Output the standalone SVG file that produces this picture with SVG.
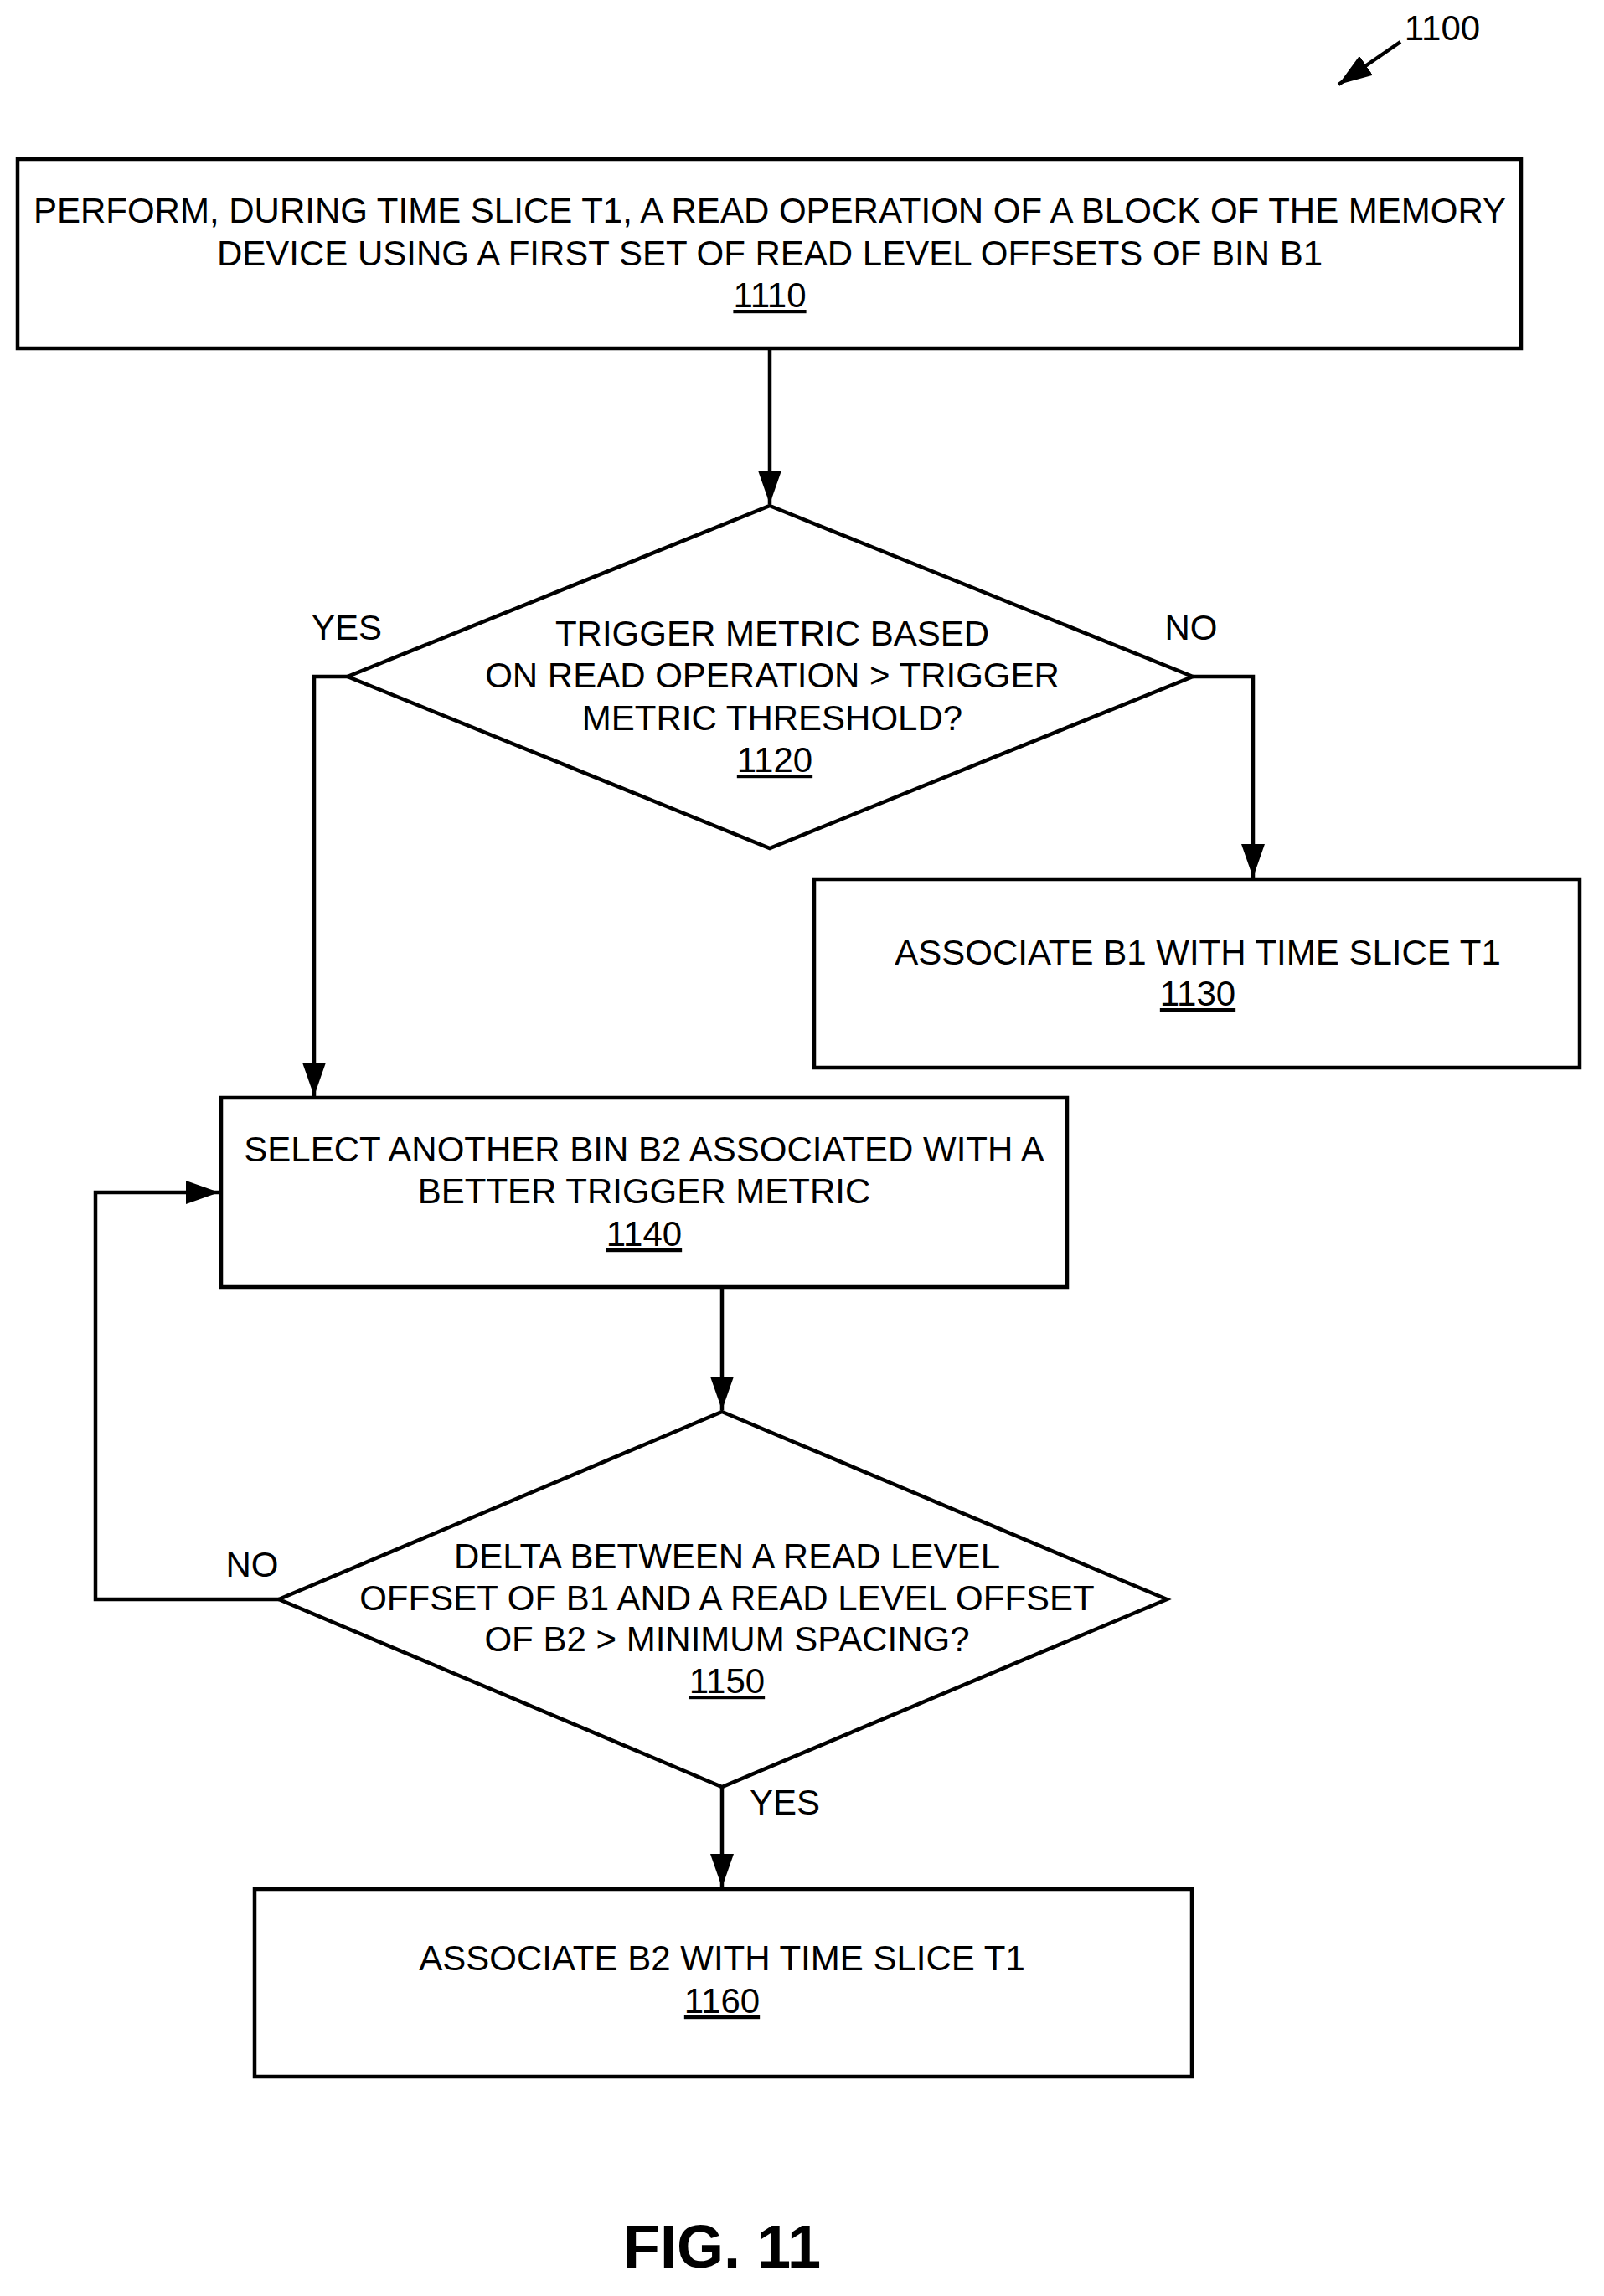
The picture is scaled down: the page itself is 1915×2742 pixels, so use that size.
<svg xmlns="http://www.w3.org/2000/svg" width="1915" height="2742" viewBox="0 0 1915 2742">
<style>
.s{fill:#fff;stroke:#000;stroke-width:4.5}
.l{fill:none;stroke:#000;stroke-width:4.5}
text{font-family:"Liberation Sans",Arial,sans-serif;font-size:42px;fill:#000;text-anchor:middle}
.u{text-decoration:underline}
</style>
<defs>
<marker id="b" viewBox="0 0 10 10" refX="10" refY="5" markerWidth="40" markerHeight="40" markerUnits="userSpaceOnUse" orient="auto"><path d="M0,1.5L10,5L0,8.5z"/></marker></defs>
<g id="n1100"><text x="1722" y="48">1100</text><line class="l" x1="1672" y1="50" x2="1598" y2="101" marker-end="url(#b)"/></g>
<g id="n1110"><rect class="s" x="21" y="190" width="1795" height="226"/><text x="919" y="266">PERFORM, DURING TIME SLICE T1, A READ OPERATION OF A BLOCK OF THE MEMORY</text><text x="919" y="317">DEVICE USING A FIRST SET OF READ LEVEL OFFSETS OF BIN B1</text><text class="u" x="919" y="367">1110</text></g>
<g id="n1120"><polygon class="s" points="919,604 1424,808 919,1013 415,808"/><text x="922" y="771">TRIGGER METRIC BASED</text><text x="922" y="821">ON READ OPERATION &gt; TRIGGER</text><text x="922" y="872">METRIC THRESHOLD?</text><text class="u" x="925" y="922">1120</text></g>
<g id="n1130"><rect class="s" x="972" y="1050" width="914" height="225"/><text x="1430" y="1152">ASSOCIATE B1 WITH TIME SLICE T1</text><text class="u" x="1430" y="1201">1130</text></g>
<g id="n1140"><rect class="s" x="264" y="1311" width="1010" height="226"/><text x="769" y="1387">SELECT ANOTHER BIN B2 ASSOCIATED WITH A</text><text x="769" y="1437">BETTER TRIGGER METRIC</text><text class="u" x="769" y="1488">1140</text></g>
<g id="n1150"><polygon class="s" points="862,1686 1393,1910 862,2134 333,1910"/><text x="868" y="1873">DELTA BETWEEN A READ LEVEL</text><text x="868" y="1923">OFFSET OF B1 AND A READ LEVEL OFFSET</text><text x="868" y="1972">OF B2 &gt; MINIMUM SPACING?</text><text class="u" x="868" y="2022">1150</text></g>
<g id="n1160"><rect class="s" x="304" y="2256" width="1119" height="224"/><text x="862" y="2353">ASSOCIATE B2 WITH TIME SLICE T1</text><text class="u" x="862" y="2404">1160</text></g>
<g id="connectors">
<line class="l" x1="919" y1="416" x2="919" y2="602" marker-end="url(#b)"/>
<polyline class="l" points="415,808 375,808 375,1309" marker-end="url(#b)"/>
<polyline class="l" points="1424,808 1496,808 1496,1048" marker-end="url(#b)"/>
<line class="l" x1="862" y1="1537" x2="862" y2="1684" marker-end="url(#b)"/>
<polyline class="l" points="333,1910 114,1910 114,1424 262,1424" marker-end="url(#b)"/>
<line class="l" x1="862" y1="2134" x2="862" y2="2254" marker-end="url(#b)"/>
<text x="414" y="764">YES</text><text x="1422" y="764">NO</text><text x="301" y="1883">NO</text><text x="937" y="2167">YES</text>
</g>
<text x="862" y="2708" style="font-size:72px;font-weight:bold">FIG. 11</text>
</svg>
